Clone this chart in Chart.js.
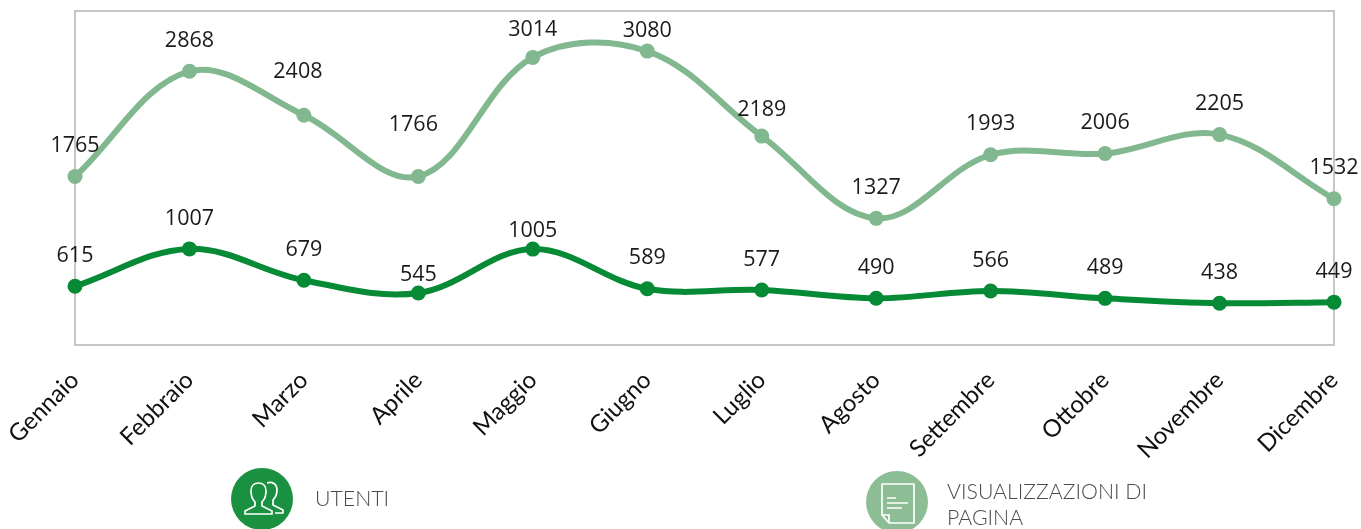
<!DOCTYPE html>
<html>
<head>
<meta charset="utf-8">
<script src="https://cdn.jsdelivr.net/npm/chart.js@4"></script>
<style>
  html, body { margin: 0; background: #fff; overflow: hidden; }
  #wrap { position: relative; width: 1361px; height: 529px; }
  .icon { position: absolute; width: 62px; height: 62px; }
  .txt { position: absolute; font: 300 21.3px/26px Lato, "Open Sans", sans-serif; color: #4a4a4a; }
</style>
</head>
<body>
<div id="wrap">
  <canvas id="chart" width="1361" height="529"></canvas>
  <svg class="icon" style="left:231px;top:468px" viewBox="0 0 62 62">
    <circle cx="31" cy="31" r="31" fill="#1a9140"/>
    <path d="M14 46 l0 -3 l10 -5 l0 -4 c-3 -3 -4 -7 -4 -11 c0 -5 3 -8 7.500 -8 c4.500 0 7.500 3 7.500 8 c0 4 -1 8 -4 11 l0 4 l10 5 l0 3 z M36 15 c5 -2 10 1 10 7 c0 4 -1 7 -4 10 l0 5 l10 5 l0 3 l-8 0" fill="none" stroke="#fff" stroke-width="1.7" stroke-linejoin="round"/>
  </svg>
  <div class="txt" style="left:315px;top:485px">UTENTI</div>
  <svg class="icon" style="left:866px;top:471px" viewBox="0 0 62 62">
    <circle cx="31" cy="31" r="31" fill="#8cbd95"/>
    <path d="M16 13 l32 0 l0 39 l-25 0 l-7 -8 z M16 44 l7 0 l0 8 M21 27 l9 0 M21 32 l21 0 M21 37 l15 0" fill="none" stroke="#fff" stroke-width="1.7" stroke-linejoin="round"/>
  </svg>
  <div class="txt" style="left:947px;top:478px">VISUALIZZAZIONI DI<br>PAGINA</div>
</div>
<script>
const months = ['Gennaio', 'Febbraio', 'Marzo', 'Aprile', 'Maggio', 'Giugno', 'Luglio', 'Agosto', 'Settembre', 'Ottobre', 'Novembre', 'Dicembre'];
const visualizzazioni = [1765, 2868, 2408, 1766, 3014, 3080, 2189, 1327, 1993, 2006, 2205, 1532];
const utenti = [615, 1007, 679, 545, 1005, 589, 577, 490, 566, 489, 438, 449];

// hand placed label offsets [dx, dy] where the default (above the point) is not what the picture has
const labelShift = {
  '0:2': [-6, -13], '0:3': [-5, -21], '0:4': [0, 3], '0:5': [0, 10], '0:6': [0, 4],
  '1:3': [0, 12], '1:4': [0, 12]
};

const frame = {
  id: 'frame',
  beforeDatasetsDraw(chart) {
    const { ctx, chartArea: a } = chart;
    ctx.save();
    ctx.strokeStyle = '#c6c6c6';
    ctx.lineWidth = 2;
    ctx.strokeRect(a.left, a.top, a.right - a.left, a.bottom - a.top);
    ctx.restore();
  }
};

const valueLabels = {
  id: 'valueLabels',
  afterDatasetsDraw(chart) {
    const ctx = chart.ctx;
    ctx.save();
    ctx.font = '21.5px "Open Sans"';
    ctx.fillStyle = '#1a1a1a';
    ctx.textAlign = 'center';
    ctx.textBaseline = 'middle';
    chart.data.datasets.forEach((ds, i) => {
      chart.getDatasetMeta(i).data.forEach((pt, j) => {
        const s = labelShift[i + ':' + j] || [0, 0];
        ctx.fillText(ds.data[j], pt.x + s[0], pt.y - 30.5 + s[1]);
      });
    });
    ctx.restore();
  }
};

new Chart(document.getElementById('chart'), {
  type: 'line',
  data: {
    labels: months,
    datasets: [
      { data: visualizzazioni, borderColor: '#82b88f', backgroundColor: '#82b88f' },
      { data: utenti, borderColor: '#068a35', backgroundColor: '#068a35' }
    ]
  },
  options: {
    responsive: false,
    animation: false,
    clip: false,
    layout: { padding: { left: 75, right: 27, top: 11, bottom: 0 } },
    plugins: { legend: { display: false }, tooltip: { enabled: false } },
    elements: {
      line: { borderWidth: 6, tension: 0.36, borderCapStyle: 'round' },
      point: { radius: 7.5, borderWidth: 0 }
    },
    scales: {
      x: {
        offset: false,
        grid: { display: false },
        border: { display: false },
        afterFit: s => { s.height = 184; s.paddingLeft = 0; s.paddingRight = 0; },
        ticks: {
          autoSkip: false, minRotation: 45, maxRotation: 45, padding: 13,
          color: '#111', font: { family: 'Lato', size: 24 }
        }
      },
      y: {
        min: 0, max: 3500, display: false
      }
    }
  },
  plugins: [frame, valueLabels]
});
</script>
</body>
</html>
